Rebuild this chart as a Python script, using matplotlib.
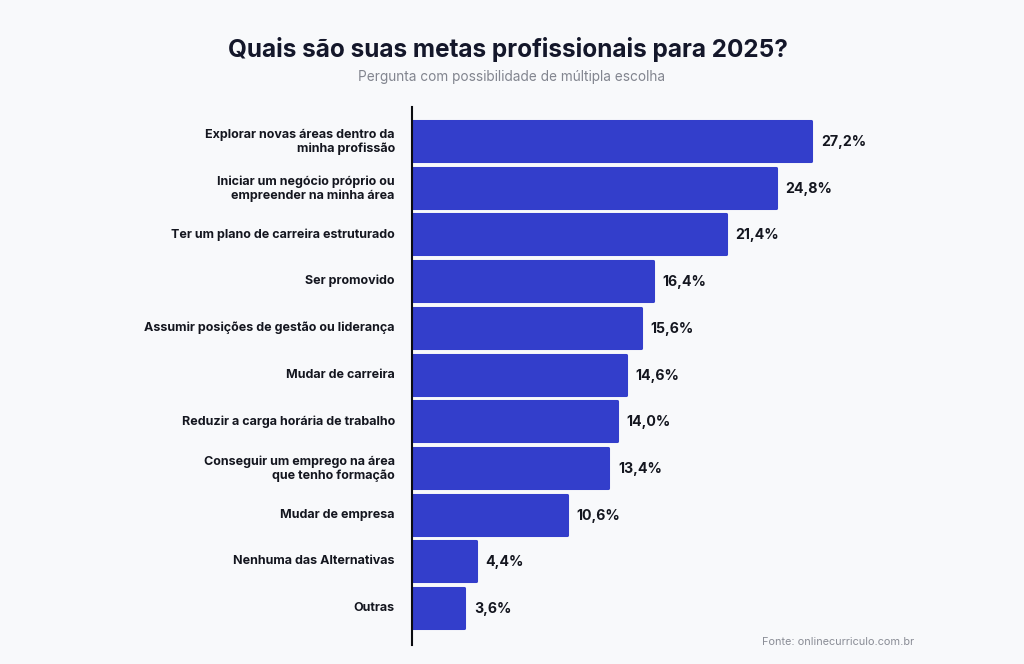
import matplotlib
matplotlib.use("Agg")
import matplotlib.pyplot as plt
from matplotlib.transforms import ScaledTranslation

categories = [
    "Explorar novas áreas dentro da\nminha profissão",
    "Iniciar um negócio próprio ou\nempreender na minha área",
    "Ter um plano de carreira estruturado",
    "Ser promovido",
    "Assumir posições de gestão ou liderança",
    "Mudar de carreira",
    "Reduzir a carga horária de trabalho",
    "Conseguir um emprego na área\nque tenho formação",
    "Mudar de empresa",
    "Nenhuma das Alternativas",
    "Outras",
]
values = [27.2, 24.8, 21.4, 16.4, 15.6, 14.6, 14.0, 13.4, 10.6, 4.4, 3.6]
value_labels = ["27,2%", "24,8%", "21,4%", "16,4%", "15,6%", "14,6%", "14,0%", "13,4%", "10,6%", "4,4%", "3,6%"]

W, H = 1024, 664
BG = "#F8F9FB"
BAR = "#333ECB"
plt.rcParams["font.family"] = ["Inter", "DejaVu Sans"]

fig = plt.figure(figsize=(W / 100, H / 100), dpi=100, facecolor=BG)

left, right, top, bottom = 411.5, 1000, 107, 645
ax = fig.add_axes([left / W, 1 - bottom / H, (right - left) / W, (bottom - top) / H])
ax.set_facecolor("none")

px_per_unit = 14.7
pitch = 46.72
y0 = 141.0
ax.set_xlim(0, (right - left) / px_per_unit)
ax.set_ylim((bottom - y0) / pitch, (top - y0) / pitch)

pos = list(range(len(values)))
ax.barh(pos, values, height=40 / pitch, color=BAR, edgecolor=BAR, linewidth=2.2,
        joinstyle="round", zorder=2)

for p, v, lab in zip(pos, values, value_labels):
    ax.annotate(lab, (v, p), xytext=(6.8, -0.7), textcoords="offset points",
                ha="left", va="center", fontsize=10.2, fontweight="bold", color="#14161F")

ax.set_yticks(pos)
ax.set_yticklabels(categories, fontsize=9.0, fontweight="bold", color="#14161F",
                   linespacing=1.2, ha="right")
ax.tick_params(axis="y", length=0, pad=12)
shift = ScaledTranslation(0, 1.5 / 100, fig.dpi_scale_trans)
for lbl in ax.get_yticklabels():
    lbl.set_transform(lbl.get_transform() + shift)
ax.set_xticks([])
for s in ["top", "right", "bottom"]:
    ax.spines[s].set_visible(False)
ax.spines["left"].set_linewidth(1.5)
ax.spines["left"].set_color("#0B0C10")
ax.spines["left"].set_zorder(5)

fig.text(507.5 / W, 1 - 49 / H, "Quais são suas metas profissionais para 2025?", ha="center", va="center",
         fontsize=17.5, fontweight="bold", color="#14172A")
fig.text(511.5 / W, 1 - 77.5 / H, "Pergunta com possibilidade de múltipla escolha", ha="center", va="center",
         fontsize=9.82, color="#82858F")
fig.text(838.5 / W, 1 - 642 / H, "Fonte: onlinecurriculo.com.br", ha="center", va="center",
         fontsize=7.87, color="#8A8D96")

fig.savefig("out.png", dpi=100, facecolor=BG)
